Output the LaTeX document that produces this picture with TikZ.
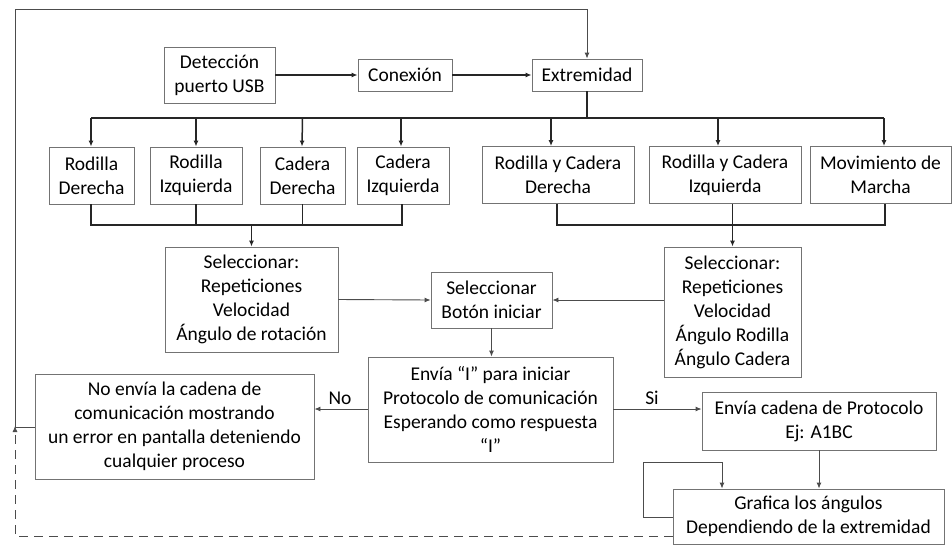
\documentclass[tikz,border=0pt]{standalone}
\usepackage{fontspec}
\setmainfont{Carlito}
\usetikzlibrary{arrows.meta}
\tikzset{
  box/.style={draw=black!55, line width=0.9pt, fill=white, align=center, inner sep=0pt,
    font=\fontsize{19.5pt}{24pt}\selectfont},
  lbl/.style={inner sep=0pt, font=\fontsize{19.5pt}{24pt}\selectfont},
  bus/.style={draw=black!85, line width=1.5pt},
  thin/.style={draw=black!70, line width=0.9pt},
  arr/.style={-{Latex[length=6pt,width=5pt]}},
}
\begin{document}
\begin{tikzpicture}[x=1pt,y=-1pt]
\useasboundingbox (0,0) rectangle (952,544);
% boxes
\node[box, minimum width=111, minimum height=56] (det) at (219.5,75) {Detección\\puerto USB};
\node[box, minimum width=94, minimum height=32] (con) at (405,75) {Conexión};
\node[box, minimum width=110, minimum height=32] (ext) at (587,75) {Extremidad};
\node[box, minimum width=85, minimum height=57] (rd) at (91.5,175.5) {Rodilla\\Derecha};
\node[box, minimum width=92, minimum height=57] (ri) at (196,175.5) {Rodilla\\Izquierda};
\node[box, minimum width=85, minimum height=57] (cd) at (302.5,175.5) {Cadera\\Derecha};
\node[box, minimum width=92, minimum height=57] (ci) at (403,175.5) {Cadera\\Izquierda};
\node[box, minimum width=152, minimum height=57] (rcd) at (558,175) {Rodilla y Cadera\\Derecha};
\node[box, minimum width=152, minimum height=57] (rci) at (725,175) {Rodilla y Cadera\\Izquierda};
\node[box, minimum width=141, minimum height=57] (mm) at (880.5,175) {Movimiento de\\Marcha};
\node[box, minimum width=173, minimum height=105] (sel1) at (251.5,299.5) {Seleccionar:\\Repeticiones\\Velocidad\\Ángulo de rotación};
\node[box, minimum width=137, minimum height=130] (sel2) at (732.5,312) {Seleccionar:\\Repeticiones\\Velocidad\\Ángulo Rodilla\\Ángulo Cadera};
\node[box, minimum width=121, minimum height=56] (bot) at (491.5,300) {Seleccionar\\Botón iniciar};
\node[box, minimum width=245, minimum height=105] (env) at (490.5,409.5) {Envía “I” para iniciar\\Protocolo de comunicación\\Esperando como respuesta\\“I”};
\node[box, minimum width=279, minimum height=105] (no) at (174.5,426.5) {No envía la cadena de\\comunicación mostrando\\un error en pantalla deteniendo\\cualquier proceso};
\node[box, minimum width=234, minimum height=58] (pro) at (819,421) {Envía cadena de Protocolo\\Ej: A1BC};
\node[box, minimum width=271, minimum height=55] (gra) at (808.5,516.5) {Grafica los ángulos\\Dependiendo de la extremidad};
\node[lbl] (lno) at (340,398) {No};
\node[lbl] (lsi) at (652,398) {Si};
% coordinates
\coordinate (b1) at (91,118);
\coordinate (b2) at (884,118);
\coordinate (l1) at (91,225);
\coordinate (l2) at (402,225);
\coordinate (r1) at (557,225);
\coordinate (r2) at (885,225);
\coordinate (tl) at (15,9);
\coordinate (nl) at (15,427);
\coordinate (dl) at (15,536);
\coordinate (lp1) at (643,517);
\coordinate (lp2) at (643,462);
\coordinate (lp3) at (722,462);
% top row
\draw[bus,arr] (det.east) -- (con.west);
\draw[bus,arr] (con.east) -- (ext.west);
\draw[bus] (ext.south) -- (ext.south |- b1);
\draw[bus] (b1) -- (b2);
\draw[bus,arr] (b1) -- (rd.north -| b1);
\draw[bus,arr] (ri.north |- b1) -- (ri.north);
\draw[bus,arr] (cd.north |- b1) -- ([xshift=-0.5pt]cd.north);
\draw[bus,arr] ([xshift=-2pt]ci.north |- b1) -- ([xshift=-2pt]ci.north);
\draw[bus,arr] ([xshift=-7pt]rcd.north |- b1) -- ([xshift=-7pt]rcd.north);
\draw[bus,arr] ([xshift=-7pt]rci.north |- b1) -- ([xshift=-7pt]rci.north);
\draw[bus,arr] (b2) -- (mm.north -| b2);
% lower left bus
\draw[bus] (rd.south -| l1) -- (l1) -- (l2) -- (ci.south -| l2);
\draw[bus] (ri.south) -- (ri.south |- l1);
\draw[bus] (cd.south) -- (cd.south |- l1);
\draw[bus,arr] (sel1.north |- l1) -- (sel1.north);
% lower right bus
\draw[bus] (rcd.south -| r1) -- (r1) -- (r2) -- (mm.south -| r2);
\draw[bus,arr] (rci.south -| sel2.north) -- (sel2.north);
% middle
\draw[thin,arr] (sel1.east) -- (bot.west);
\draw[thin,arr] (sel2.west |- bot) -- (bot.east);
\draw[thin,arr] (bot.south) -- (bot.south |- env.north);
\draw[thin,arr] (env.west |- 0,409) -- (no.east |- 0,409);
\draw[thin,arr] (env.east |- 0,409) -- (pro.west |- 0,409);
\draw[thin,arr] (pro.south) -- (pro.south |- gra.north);
\draw[thin,arr] (gra.west |- lp1) -- (lp1) -- (lp2) -- (lp3) -- (lp3 |- gra.north);
% feedback
\draw[thin,arr] (no.west |- nl) -- (nl) -- (tl) -- (tl -| ext.north) -- (ext.north);
\draw[thin,dashed,dash pattern=on 9pt off 6pt,arr] (gra.west |- dl) -- (dl) -- ([yshift=1pt]nl);
\end{tikzpicture}
\end{document}
